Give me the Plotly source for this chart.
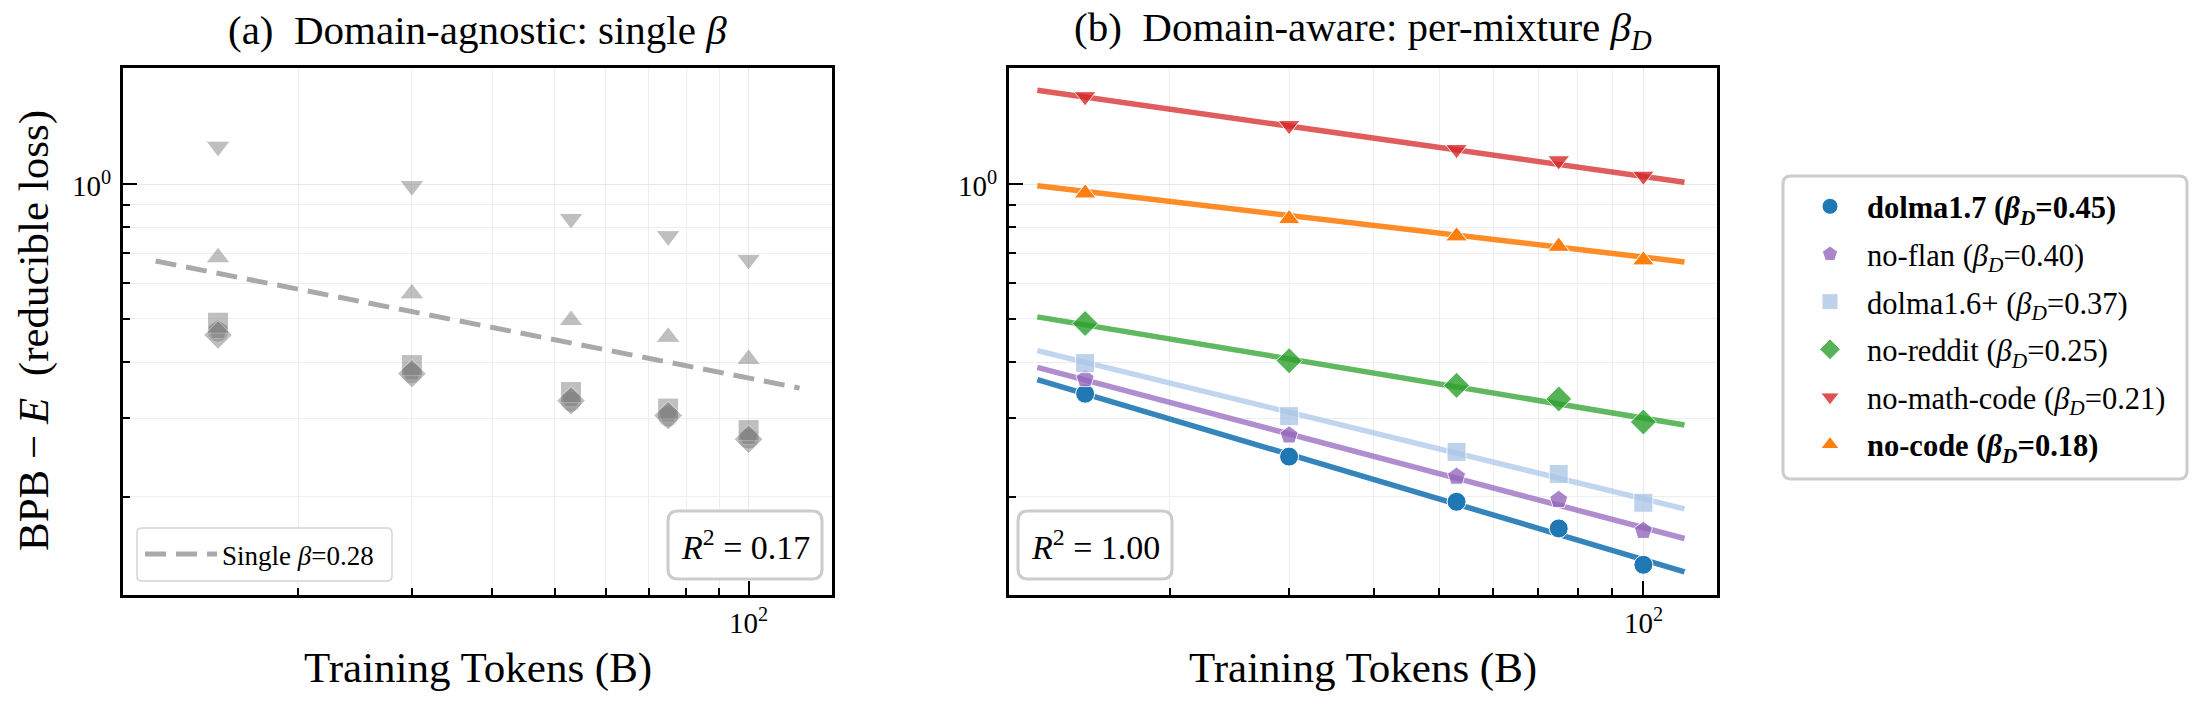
import math
import plotly.graph_objects as go

W, H = 2200, 707
FONT = "Liberation Serif"

# ---------------- data ----------------
tokens = [15, 30, 53, 75, 100]
mixtures = ["dolma1.7", "no-flan", "dolma1.6+", "no-reddit", "no-math-code", "no-code"]
beta_d = ["0.45", "0.40", "0.37", "0.25", "0.21", "0.18"]
bold_mix = [True, False, False, False, False, True]

# panel (a): BPB - E with a single shared E
dolma17_agn = [0.468, 0.378, 0.326, 0.302, 0.270]
noflan_agn = [0.472, 0.381, 0.332, 0.307, 0.2735]
dolma16_agn = [0.490, 0.394, 0.343, 0.315, 0.282]
noreddit_agn = [0.460, 0.377, 0.328, 0.304, 0.269]
nomathcode_agn = [1.214, 0.991, 0.837, 0.766, 0.678]
nocode_agn = [0.685, 0.569, 0.496, 0.455, 0.406]

single_fit_tokens = [12, 120]
single_fit_loss = [0.673, 0.350]
single_beta = "0.28"
r2_single = "0.17"

# panel (b): BPB - E_D per mixture
dolma17_aw = [0.340, 0.246, 0.195, 0.170, 0.141]
noflan_aw = [0.367, 0.2745, 0.222, 0.197, 0.168]
dolma16_aw = [0.398, 0.303, 0.252, 0.225, 0.194]
noreddit_aw = [0.488, 0.403, 0.355, 0.331, 0.294]
nomathcode_aw = [1.57, 1.353, 1.196, 1.129, 1.043]
nocode_aw = [0.954, 0.836, 0.765, 0.725, 0.676]

fit_tokens = [12.75, 115]
dolma17_fit = [0.3656, 0.136]
noflan_fit = [0.3894, 0.1614]
dolma16_fit = [0.4245, 0.188]
noreddit_fit = [0.505, 0.2895]
nomathcode_fit = [1.62, 1.009]
nocode_fit = [0.991, 0.670]
r2_aware = "1.00"

x_tick_vals = [100]
x_tick_text = ["10<sup>2</sup>"]
y_tick_vals = [1]
y_tick_text = ["10<sup>0</sup>"]

# ---------------- style ----------------
agn_series = [dolma17_agn, noflan_agn, dolma16_agn, noreddit_agn, nomathcode_agn, nocode_agn]
aw_series = [dolma17_aw, noflan_aw, dolma16_aw, noreddit_aw, nomathcode_aw, nocode_aw]
fit_series = [dolma17_fit, noflan_fit, dolma16_fit, noreddit_fit, nomathcode_fit, nocode_fit]
colors = [(31, 119, 180), (148, 103, 189), (174, 199, 232), (44, 160, 44), (214, 39, 40), (255, 127, 14)]
symbols = ["circle", "pentagon", "square", "diamond", "triangle-down", "triangle-up"]
size_b = [19, 19, 19, 20, 19, 19]
size_a = [21, 21, 21, 22, 21, 21]
TICK_SIZE = 29


def rgba(c, a):
    return "rgba(%d,%d,%d,%.2f)" % (c[0], c[1], c[2], a)


def px(x):
    return x / W


def py(y):
    return 1 - y / H


def rounded(x0, y0, x1, y1, r):
    def P(x, y):
        return "%.5f,%.5f" % (px(x), py(y))
    return ("M" + P(x0 + r, y0) + " L" + P(x1 - r, y0) + " Q" + P(x1, y0) + " " + P(x1, y0 + r) +
            " L" + P(x1, y1 - r) + " Q" + P(x1, y1) + " " + P(x1 - r, y1) +
            " L" + P(x0 + r, y1) + " Q" + P(x0, y1) + " " + P(x0, y1 - r) +
            " L" + P(x0, y0 + r) + " Q" + P(x0, y0) + " " + P(x0 + r, y0) + " Z")


fig = go.Figure()

# panel (a) markers
for i in range(len(mixtures)):
    fig.add_trace(go.Scatter(
        x=tokens, y=agn_series[i], mode="markers", xaxis="x", yaxis="y", showlegend=False,
        marker=dict(symbol=symbols[i], size=size_a[i], color="rgb(128,128,128)", opacity=0.5,
                    line=dict(color="white", width=1)),
    ))
fig.add_trace(go.Scatter(
    x=single_fit_tokens, y=single_fit_loss, mode="lines", xaxis="x", yaxis="y",
    name="Single <i>β</i>=" + single_beta, legend="legend2",
    line=dict(color="#a9a9a9", width=5, dash="21px,10px"),
))

# panel (b) lines then markers
for i in range(len(mixtures)):
    fig.add_trace(go.Scatter(
        x=fit_tokens, y=fit_series[i], mode="lines", xaxis="x2", yaxis="y2", showlegend=False,
        line=dict(color=rgba(colors[i], 0.9 if bold_mix[i] else 0.75), width=5.5),
    ))
for i in range(len(mixtures)):
    label = mixtures[i] + " (<i>β</i><sub><i>D</i></sub>=" + beta_d[i] + ")"
    if bold_mix[i]:
        label = "<b>" + label + "</b>"
    fig.add_trace(go.Scatter(
        x=tokens, y=aw_series[i], mode="markers", xaxis="x2", yaxis="y2",
        name=label, legend="legend", legendgroup=mixtures[i],
        marker=dict(symbol=symbols[i], size=size_b[i], color=rgba(colors[i], 1.0),
                    opacity=1.0 if bold_mix[i] else 0.8,
                    line=dict(color="white", width=1)),
    ))


def make_axis(tickvals, **extra):
    d = dict(
        type="log", showline=True, linecolor="black", linewidth=2.5, mirror=True,
        ticks="inside", ticklen=14, tickwidth=2, tickcolor="black",
        showgrid=True, gridcolor="#e8e8e8", gridwidth=1, zeroline=False,
        tickmode="array", tickvals=tickvals, showticklabels=False,
        minor=dict(dtick="D1", ticks="inside", ticklen=7, tickwidth=1.5,
                   tickcolor="black", showgrid=True, gridcolor="#eeeeee", gridwidth=1),
    )
    d.update(extra)
    return d


left_dom = [px(123.3), px(832.3)]
right_dom = [px(1009), px(1716.7)]
y_dom = [py(594.5), py(67.7)]
y_range = [math.log10(0.121), math.log10(1.82)]

fig.update_layout(
    width=W, height=H, margin=dict(l=0, r=0, t=0, b=0),
    paper_bgcolor="white", plot_bgcolor="rgba(0,0,0,0)",
    font=dict(family=FONT, size=TICK_SIZE, color="black"),
    xaxis=make_axis(x_tick_vals, domain=left_dom,
                    range=[math.log10(10.69), math.log10(134.9)], anchor="y"),
    yaxis=make_axis(y_tick_vals, domain=y_dom, range=y_range, anchor="x"),
    xaxis2=make_axis(x_tick_vals, domain=right_dom,
                     range=[math.log10(11.58), math.log10(128.3)], anchor="y2"),
    yaxis2=make_axis(y_tick_vals, domain=y_dom, range=y_range, anchor="x2"),
    legend=dict(x=px(1793), y=py(180), xanchor="left", yanchor="top", bgcolor="rgba(0,0,0,0)",
                borderwidth=0, font=dict(family=FONT, size=30.5, color="black"), tracegroupgap=5,
                itemsizing="trace", itemwidth=64),
    legend2=dict(x=px(140), y=py(554.5), xanchor="left", yanchor="middle", bgcolor="rgba(0,0,0,0)",
                 borderwidth=0, font=dict(family=FONT, size=27, color="black"), itemwidth=72),
    showlegend=True,
)

shapes = [
    dict(type="path", path=rounded(137, 528, 392, 581, 5), xref="paper", yref="paper",
         line=dict(color="#d4d4d4", width=1.5), fillcolor="rgba(255,255,255,0.85)", layer="above"),
    dict(type="path", path=rounded(668, 511, 822, 579, 10), xref="paper", yref="paper",
         line=dict(color="#cccccc", width=3), fillcolor="white", layer="above"),
    dict(type="path", path=rounded(1018, 511, 1172, 579, 10), xref="paper", yref="paper",
         line=dict(color="#cccccc", width=3), fillcolor="white", layer="above"),
    dict(type="path", path=rounded(1783, 176, 2187, 479, 8), xref="paper", yref="paper",
         line=dict(color="#cccccc", width=3), fillcolor="white", layer="above"),
]
fig.update_layout(shapes=shapes)

ann = []


def text(x, y, s, size, angle=0):
    ann.append(dict(x=px(x), y=py(y), xref="paper", yref="paper", text=s, showarrow=False,
                    xanchor="center", yanchor="middle", textangle=angle,
                    font=dict(family=FONT, size=size, color="black")))


text((123.3 + 832.3) / 2, 30, "(a)  Domain-agnostic: single <i>β</i>", 41)
text((1009 + 1716.7) / 2, 30, "(b)  Domain-aware: per-mixture <i>β</i><sub><i>D</i></sub>", 41)
text((123.3 + 832.3) / 2, 668, "Training Tokens (B)", 43)
text((1009 + 1716.7) / 2, 668, "Training Tokens (B)", 43)
text(34, 331, "BPB − <i>E</i>  (reducible loss)", 43, angle=-90)
text(745, 545, "<i>R</i><sup>2</sup> = " + r2_single, 34)
text(1095, 545, "<i>R</i><sup>2</sup> = " + r2_aware, 34)

# tick labels, placed on the axes' own scales
for xref in ["x", "x2"]:
    for v, t in zip(x_tick_vals, x_tick_text):
        ann.append(dict(x=math.log10(v), xref=xref, y=py(621), yref="paper", text=t,
                        showarrow=False, xanchor="center", yanchor="middle",
                        font=dict(family=FONT, size=TICK_SIZE, color="black")))
for yref, xpx in [("y", 113), ("y2", 998.5)]:
    for v, t in zip(y_tick_vals, y_tick_text):
        ann.append(dict(x=px(xpx), xref="paper", y=math.log10(v), yref=yref, text=t,
                        showarrow=False, xanchor="right", yanchor="middle",
                        font=dict(family=FONT, size=TICK_SIZE, color="black")))
fig.update_layout(annotations=ann)

fig.write_html("out.html")
